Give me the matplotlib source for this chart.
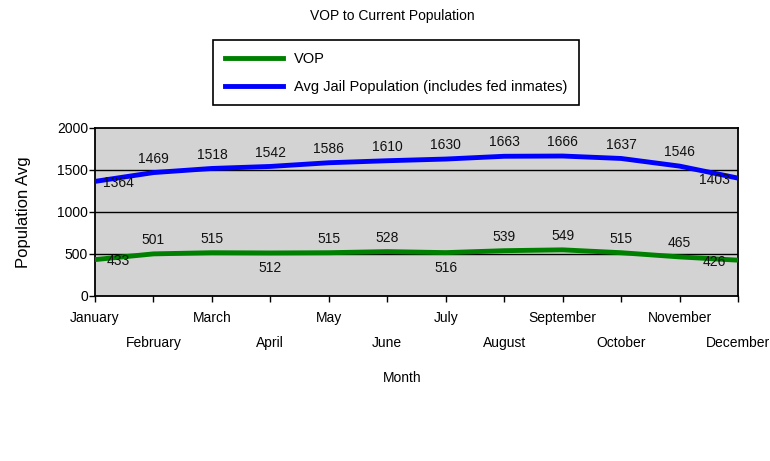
import matplotlib
matplotlib.use("Agg")
import matplotlib.pyplot as plt
from matplotlib.lines import Line2D

plt.rcParams['font.family'] = ['Liberation Sans Narrow', 'Liberation Sans', 'DejaVu Sans']

months = ["January", "February", "March", "April", "May", "June",
          "July", "August", "September", "October", "November", "December"]
vop = [433, 501, 515, 512, 515, 528, 516, 539, 549, 515, 465, 426]
jail = [1364, 1469, 1518, 1542, 1586, 1610, 1630, 1663, 1666, 1637, 1546, 1403]
# where each data label sits: a = above, b = below, l = left edge, r = right edge
vop_pos = ["l", "a", "a", "b", "a", "a", "b", "a", "a", "a", "a", "r"]
jail_pos = ["l", "a", "a", "a", "a", "a", "a", "a", "a", "a", "a", "r"]

fig = plt.figure(figsize=(7.7, 4.61), dpi=100)
ax = fig.add_axes([0.1234, 0.358, 0.835, 0.3644])
ax.set_facecolor("#d3d3d3")

x = list(range(len(months)))
ax.plot(x, jail, color="#0000ff", lw=3.5, solid_joinstyle="round", solid_capstyle="butt", zorder=3)
ax.plot(x, vop, color="#008000", lw=3.5, solid_joinstyle="round", solid_capstyle="butt", zorder=3)

for yy in [500, 1000, 1500]:
    ax.axhline(yy, color="black", lw=1.0, zorder=2)

offs = {"a": (0, 10), "b": (0, -11), "l": (17, -1), "r": (-17, -1)}
for series, pos in [(jail, jail_pos), (vop, vop_pos)]:
    for i, v in enumerate(series):
        ax.annotate(str(v), (i, v), xytext=offs[pos[i]], textcoords="offset points",
                    ha="center", va="center", fontsize=10, color="#111111", zorder=4)

ax.set_xlim(0, 11)
ax.set_ylim(0, 2000)
ax.set_yticks([0, 500, 1000, 1500, 2000])
ax.set_xticks(x)
ax.set_xticklabels(["" for m in months])
for i, m in enumerate(months):
    ax.annotate(m, (i, 0), xycoords=("data", "axes fraction"),
                xytext=(0, -16 if i % 2 == 0 else -34), textcoords="offset points",
                ha="center", va="center", fontsize=10)
ax.tick_params(axis="both", direction="out", length=4, width=1, labelsize=10, pad=1)
for s in ax.spines.values():
    s.set_linewidth(1.3)

ax.set_ylabel("Population Avg", fontsize=12, family="Liberation Sans", labelpad=19)
fig.text(0.522, 0.18, "Month", ha="center", va="center", fontsize=10)
fig.text(0.51, 0.965, "VOP to Current Population", ha="center", va="center", fontsize=10)

handles = [Line2D([], [], color="#008000", lw=3.5), Line2D([], [], color="#0000ff", lw=3.5)]
leg = fig.legend(handles, ["VOP", "Avg Jail Population (includes fed inmates)"],
                 loc="upper left", bbox_to_anchor=(0.277, 0.913), fontsize=10.5,
                 frameon=True, fancybox=False, edgecolor="black", framealpha=1,
                 handlelength=4.0, handletextpad=0.75, borderpad=0.8, labelspacing=0.95,
                 borderaxespad=0)
leg.get_frame().set_linewidth(1.2)

fig.savefig("out.png", dpi=100)
